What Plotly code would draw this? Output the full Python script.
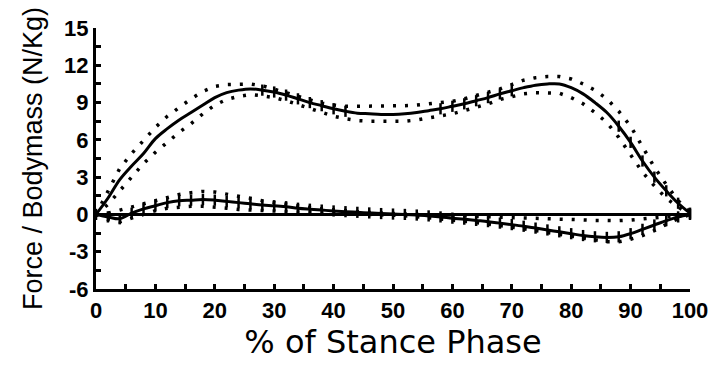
import plotly.graph_objects as go

# ---------------- data ----------------
pct = list(range(0, 101, 2))

vert_mean = [0.0, 1.3, 2.8, 3.9, 4.9, 6.1, 6.9, 7.6, 8.2, 8.8, 9.4, 9.8, 10.0, 10.1, 10.0,
             9.85, 9.6, 9.3, 9.0, 8.75, 8.5, 8.3, 8.15, 8.1, 8.05, 8.05, 8.1, 8.2, 8.35, 8.5,
             8.7, 8.9, 9.15, 9.4, 9.7, 9.95, 10.2, 10.4, 10.5, 10.5, 10.2, 9.7, 9.0, 8.2,
             7.1, 5.8, 4.3, 3.0, 1.9, 0.9, 0.1]
vert_upper = [0.0, 1.8, 3.7, 4.9, 6.0, 7.0, 7.9, 8.6, 9.3, 9.9, 10.3, 10.45, 10.5, 10.5, 10.35,
              10.1, 9.8, 9.5, 9.2, 8.95, 8.8, 8.7, 8.7, 8.7, 8.7, 8.7, 8.75, 8.8, 8.9, 9.0,
              9.1, 9.3, 9.55, 9.8, 10.1, 10.45, 10.8, 11.0, 11.1, 11.1, 10.9, 10.5, 10.0, 9.3,
              8.3, 7.1, 5.4, 3.8, 2.4, 1.1, 0.2]
vert_lower = [0.0, 0.8, 1.9, 3.0, 4.1, 5.0, 5.8, 6.6, 7.3, 8.1, 8.8, 9.25, 9.5, 9.65, 9.55,
              9.4, 9.15, 8.85, 8.5, 8.2, 7.9, 7.7, 7.55, 7.5, 7.5, 7.5, 7.5, 7.6, 7.75, 7.9,
              8.1, 8.35, 8.6, 8.9, 9.25, 9.5, 9.7, 9.8, 9.8, 9.75, 9.4, 8.9, 8.2, 7.4,
              6.2, 4.8, 3.4, 2.3, 1.3, 0.6, 0.0]

# "+" marked vertical segments
vert_plus_x = [28, 30, 32, 34, 36, 38, 40, 42, 58, 60, 62, 64, 66, 68, 70,
               88, 90, 92, 94, 96, 98, 100]
vert_plus_y = [10.0, 9.85, 9.6, 9.3, 9.0, 8.75, 8.5, 8.3, 8.5, 8.7, 8.9, 9.15, 9.4, 9.7, 9.95,
               7.1, 5.8, 4.3, 3.0, 1.9, 0.9, 0.1]

ap_mean = [0.0, -0.2, -0.35, 0.1, 0.45, 0.7, 0.95, 1.1, 1.15, 1.2, 1.15, 1.05, 0.95, 0.85, 0.75,
           0.7, 0.62, 0.5, 0.42, 0.35, 0.28, 0.22, 0.17, 0.12, 0.07, 0.03, 0.0, -0.05, -0.12,
           -0.2, -0.3, -0.38, -0.48, -0.58, -0.7, -0.82, -0.95, -1.1, -1.25, -1.4, -1.55,
           -1.7, -1.8, -1.85, -1.8, -1.55, -1.2, -0.85, -0.5, -0.2, 0.0]
ap_upper = [0.0, 0.1, 0.35, 0.6, 0.85, 1.15, 1.4, 1.6, 1.75, 1.85, 1.8, 1.65, 1.5, 1.3, 1.1,
            0.95, 0.8, 0.65, 0.55, 0.45, 0.35, 0.3, 0.22, 0.15, 0.1, 0.05, 0.02, 0.0, -0.03,
            -0.06, -0.1, -0.12, -0.14, -0.16, -0.18, -0.2, -0.24, -0.28, -0.32, -0.36, -0.4,
            -0.44, -0.48, -0.5, -0.5, -0.45, -0.35, -0.25, -0.15, -0.05, 0.0]
ap_lower = [0.0, -0.4, -0.6, -0.3, 0.05, 0.3, 0.5, 0.6, 0.65, 0.65, 0.6, 0.5, 0.4, 0.35, 0.3,
            0.25, 0.22, 0.18, 0.15, 0.12, 0.1, 0.07, 0.04, 0.0, -0.03, -0.05, -0.1, -0.18,
            -0.26, -0.35, -0.45, -0.55, -0.65, -0.76, -0.88, -1.0, -1.15, -1.3, -1.45, -1.6,
            -1.75, -1.9, -2.1, -2.2, -2.2, -2.0, -1.7, -1.3, -0.8, -0.35, 0.0]

x_ticks = list(range(0, 101, 5))
x_labels = [str(v) if v % 10 == 0 else "" for v in x_ticks]
y_ticks = [-6 + 1.5 * i for i in range(15)]
y_labels = [str(int(v)) if v % 3 == 0 else "" for v in y_ticks]

# ---------------- figure ----------------
fig = go.Figure()
dot = "3px,9px"

for ys in (vert_upper, vert_lower, ap_upper, ap_lower):
    fig.add_trace(go.Scatter(x=pct, y=ys, mode="lines", cliponaxis=False,
                             line=dict(color="black", width=3.5, dash=dot)))

fig.add_trace(go.Scatter(x=pct, y=vert_mean, mode="lines", cliponaxis=False,
                         line=dict(color="black", width=3, shape="spline")))
fig.add_trace(go.Scatter(x=vert_plus_x, y=vert_plus_y, mode="markers", cliponaxis=False,
                         marker=dict(symbol="line-ns", size=8,
                                     line=dict(color="black", width=2.5))))
fig.add_trace(go.Scatter(x=pct, y=ap_mean, mode="lines+markers", cliponaxis=False,
                         line=dict(color="black", width=3, shape="spline"),
                         marker=dict(symbol="line-ns", size=8,
                                     line=dict(color="black", width=2.5))))

fig.update_layout(
    width=719, height=369,
    margin=dict(l=96, r=29, t=28, b=80),
    plot_bgcolor="white", paper_bgcolor="white",
    showlegend=False,
    font=dict(family="Liberation Sans", color="black"),
)
fig.update_xaxes(
    range=[0, 100], tickvals=x_ticks, ticktext=x_labels,
    ticks="inside", ticklen=5, tickwidth=3, tickcolor="black",
    showline=True, linewidth=3, linecolor="black", showgrid=False, zeroline=False,
    tickfont=dict(size=22, weight="bold"),
    title=dict(text="% of Stance Phase",
               font=dict(family="DejaVu Sans", size=32), standoff=6),
)
fig.update_yaxes(
    range=[-6, 15], tickvals=y_ticks, ticktext=y_labels,
    ticks="inside", ticklen=5, tickwidth=3, tickcolor="black",
    showline=True, linewidth=3, linecolor="black", showgrid=False,
    zeroline=True, zerolinewidth=3, zerolinecolor="black",
    tickfont=dict(size=22, weight="bold"),
    title=dict(text="Force / Bodymass (N/Kg)", font=dict(size=27), standoff=14),
)

fig.write_html("out.html")
